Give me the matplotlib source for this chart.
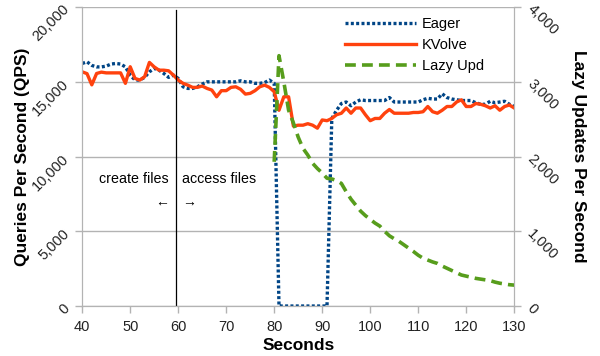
import matplotlib
matplotlib.use("Agg")
import matplotlib.pyplot as plt
from matplotlib.ticker import FuncFormatter

plt.rcParams['font.family'] = ['Liberation Sans', 'DejaVu Sans']

seconds = list(range(40, 131))

eager_qps = [16230, 16340, 16100, 16000, 16000, 16050, 16190, 16230, 16190, 16000,
             15450, 15120, 15120, 15300, 15670, 15900, 15780, 15560, 15300, 15450,
             15230, 14670, 14560, 14560, 14670, 14850, 15000, 15000, 15000, 15000,
             15000, 15000, 15000, 15070, 15000, 15000, 14900, 14900, 14950, 15120,
             14900,
             0, 0, 0, 0, 0, 0, 0, 0, 0, 0, 0,
             12550, 13100, 13550, 13650, 13400, 13650, 13800, 13750, 13750,
             13750, 13750, 13750, 13950, 13650, 13650, 13650, 13650, 13650, 13650,
             13800, 13900, 13850, 13850, 14200, 13950, 13850, 13800, 13750, 13750,
             13750, 13600, 13500, 13500, 13700, 13600, 13650, 13700, 13500, 13350]

kvolve_qps = [15670, 15550, 14800, 15560, 15650, 15600, 15600, 15600, 15600, 14900,
              16010, 15230, 15120, 15340, 16300, 16000, 15780, 15780, 15740, 15450,
              15120, 14900, 14780, 14630, 14630, 14720, 14560, 14450, 14000, 14410,
              14410, 14630, 14670, 14500, 14180, 14230, 14410, 14670, 14780, 14630,
              14340, 13100, 14000, 14000, 12040, 12100, 12100, 12200, 12100, 11900,
              12450, 12400, 12550, 12800, 12900, 13250, 12900, 13250, 13250, 12800,
              12400, 12550, 12550, 12900, 13150, 12900, 12900, 12900, 12900, 12950,
              12950, 13000, 13350, 13000, 12900, 13100, 13350, 13350, 13650, 13800,
              13350, 13350, 13550, 13500, 13400, 13250, 13400, 13100, 13350, 13450,
              13250]

lazy_seconds = list(range(80, 131))
lazy_updates = [1930, 3350, 3000, 2620, 2450, 2260, 2110, 2020, 1910, 1840,
                1780, 1710, 1700, 1680, 1640, 1530, 1430, 1350, 1270, 1210,
                1160, 1110, 1070, 1000, 940, 900, 865, 820, 775, 730,
                680, 640, 615, 590, 570, 535, 505, 475, 445, 415,
                400, 385, 370, 360, 350, 340, 320, 305, 295, 285, 280]

qps_ticks = [0, 5000, 10000, 15000, 20000]
lazy_ticks = [0, 1000, 2000, 3000, 4000]
second_ticks = list(range(40, 131, 10))

blue = '#004586'
red = '#ff420e'
green = '#579d1c'
grey = '#b3b3b3'
thousands = FuncFormatter(lambda v, p: f"{int(v):,}")

fig = plt.figure(figsize=(6, 3.56), dpi=100)
ax = fig.add_axes([0.137, 0.1404, 0.72, 0.8396])
ax2 = ax.twinx()

ax.plot(seconds, eager_qps, color=blue, lw=2.4, linestyle=(0, (0.9, 0.7)),
        dash_capstyle='butt', label='Eager')
ax.plot(seconds, kvolve_qps, color=red, lw=2.4, label='KVolve')
ax2.plot(lazy_seconds, lazy_updates, color=green, lw=2.6, linestyle=(0, (3, 1.7)),
         label='Lazy Upd')

# phase boundary
ax.axvline(59.5, ymax=0.99, color='black', lw=0.9)

ax.set_xlim(40, 130)
ax.set_ylim(0, 20000)
ax2.set_ylim(0, 4000)
ax.set_xticks(second_ticks)
ax.set_yticks(qps_ticks)
ax2.set_yticks(lazy_ticks)
ax.yaxis.set_major_formatter(thousands)
ax2.yaxis.set_major_formatter(thousands)

ax.yaxis.grid(True, color=grey, lw=1)
ax.set_axisbelow(True)

for a in (ax, ax2):
    for s in a.spines.values():
        s.set_color(grey)
    a.spines['top'].set_visible(False)
    a.tick_params(colors=grey, length=5, width=1, labelsize=10.5, labelcolor='#222222')

for lbl in ax.get_yticklabels():
    lbl.set_rotation(45)
    lbl.set_rotation_mode('anchor')
    lbl.set_ha('right')
    lbl.set_va('center')
for lbl in ax2.get_yticklabels():
    lbl.set_rotation(-45)
    lbl.set_rotation_mode('anchor')
    lbl.set_ha('left')
    lbl.set_va('center')
ax.tick_params(axis='y', pad=6)
ax2.tick_params(axis='y', pad=6)
ax.tick_params(axis='x', pad=5)

ax.set_xlabel('Seconds', fontsize=12.5, fontweight='bold', labelpad=3)
ax.set_ylabel('Queries Per Second (QPS)', fontsize=12.5, fontweight='bold', va='center')
ax.yaxis.set_label_coords(-0.139, 0.5)
ax2.set_ylabel('Lazy Updates Per Second', fontsize=12.5, fontweight='bold',
               rotation=-90, va='center')
ax2.yaxis.set_label_coords(1.148, 0.5)

ax.text(50.8, 8500, 'create files', fontsize=10.3, ha='center', va='center')
ax.text(68.6, 8500, 'access files', fontsize=10.3, ha='center', va='center')
ax.text(56.7, 6950, '\u2190', fontsize=10, ha='center', va='center')
ax.text(62.3, 6950, '\u2192', fontsize=10, ha='center', va='center')

handles = ax.get_legend_handles_labels()[0] + ax2.get_legend_handles_labels()[0]
labels = ['Eager', 'KVolve', 'Lazy Upd']
ax2.legend(handles, labels, loc='upper left', bbox_to_anchor=(0.575, 0.953),
           bbox_transform=fig.transFigure, frameon=False, fontsize=10.5,
           handlelength=4.9, handletextpad=0.35, labelspacing=0.5,
           borderpad=0, borderaxespad=0)

fig.savefig('out.png', dpi=100)
